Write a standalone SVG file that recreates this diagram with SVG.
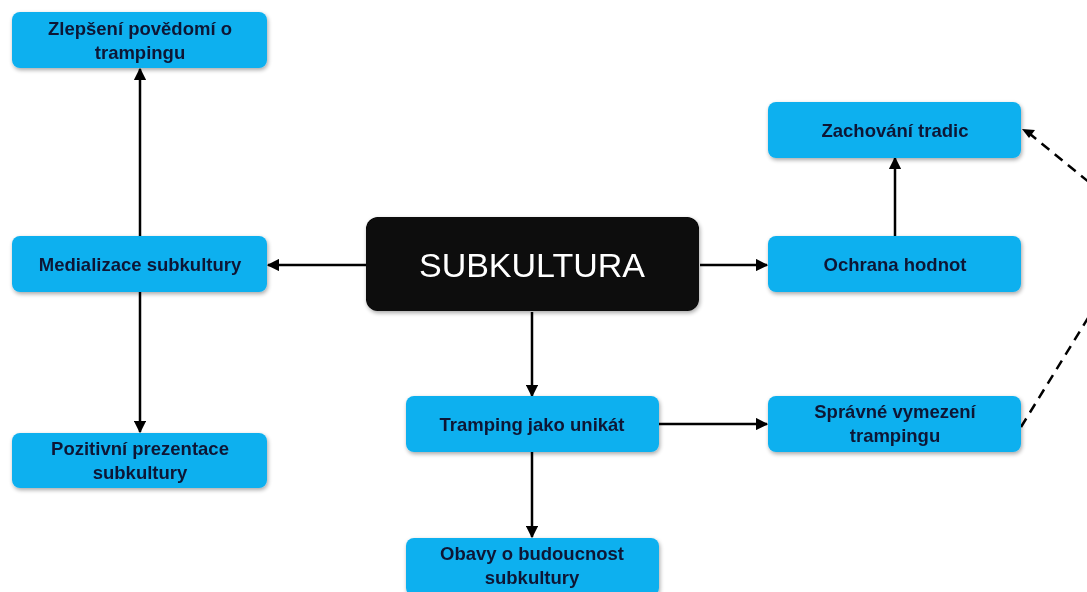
<svg xmlns="http://www.w3.org/2000/svg" width="1087" height="592" viewBox="0 0 1087 592">
<defs>
<style>
.box{fill:#0fb0ef;}
.lbl{font-family:"Liberation Sans",Arial,sans-serif;font-weight:bold;font-size:18.5px;fill:#0b1836;text-anchor:middle;}
.con{stroke:#000;stroke-width:2.5;fill:none;marker-end:url(#ah);}
.dash{stroke:#000;stroke-width:2.5;fill:none;stroke-dasharray:10,7;}
</style>
<marker id="ah" viewBox="0 0 10 10" refX="9" refY="5" markerWidth="5" markerHeight="5" orient="auto" markerUnits="strokeWidth">
<path d="M0,0 L10,5 L0,10 z" fill="#000"/>
</marker>
<filter id="sh" x="-10%" y="-20%" width="120%" height="150%">
<feGaussianBlur in="SourceAlpha" stdDeviation="2"/>
<feOffset dx="1" dy="2" result="b"/>
<feComponentTransfer><feFuncA type="linear" slope="0.35"/></feComponentTransfer>
<feMerge><feMergeNode/><feMergeNode in="SourceGraphic"/></feMerge>
</filter>
</defs>
<rect width="1087" height="592" fill="#fff"/>
<g id="connectors">
<line class="con" x1="140" y1="236" x2="140" y2="69"/>
<line class="con" x1="140" y1="292" x2="140" y2="432"/>
<line class="con" x1="366" y1="265" x2="268" y2="265"/>
<line class="con" x1="700" y1="265" x2="767" y2="265"/>
<line class="con" x1="532" y1="312" x2="532" y2="396"/>
<line class="con" x1="895" y1="236" x2="895" y2="158"/>
<line class="con" x1="659" y1="424" x2="767" y2="424"/>
<line class="con" x1="532" y1="452" x2="532" y2="537"/>
<path class="dash" d="M1021,427 L1144,227 L1030,134"/>
<path d="M1022,129 L1035,130 L1029,138 z" fill="#000"/>
</g>
<g id="n-zlepseni" filter="url(#sh)">
<rect class="box" x="12" y="12" width="255" height="56" rx="8"/>
<text class="lbl" x="140" y="35">Zlepšení povědomí o</text>
<text class="lbl" x="140" y="59">trampingu</text>
</g>
<g id="n-medializace" filter="url(#sh)">
<rect class="box" x="12" y="236" width="255" height="56" rx="8"/>
<text class="lbl" x="140" y="271">Medializace subkultury</text>
</g>
<g id="n-pozitivni" filter="url(#sh)">
<rect class="box" x="12" y="433" width="255" height="55" rx="8"/>
<text class="lbl" x="140" y="455">Pozitivní prezentace</text>
<text class="lbl" x="140" y="479">subkultury</text>
</g>
<g id="n-subkultura" filter="url(#sh)">
<rect x="366" y="217" width="333" height="94" rx="12" fill="#070707"/>
<text x="532" y="277" font-family="'Liberation Sans',Arial,sans-serif" font-size="34" fill="#fff" text-anchor="middle">SUBKULTURA</text>
</g>
<g id="n-zachovani" filter="url(#sh)">
<rect class="box" x="768" y="102" width="253" height="56" rx="8"/>
<text class="lbl" x="895" y="137">Zachování tradic</text>
</g>
<g id="n-ochrana" filter="url(#sh)">
<rect class="box" x="768" y="236" width="253" height="56" rx="8"/>
<text class="lbl" x="895" y="271">Ochrana hodnot</text>
</g>
<g id="n-tramping" filter="url(#sh)">
<rect class="box" x="406" y="396" width="253" height="56" rx="8"/>
<text class="lbl" x="532" y="431">Tramping jako unikát</text>
</g>
<g id="n-spravne" filter="url(#sh)">
<rect class="box" x="768" y="396" width="253" height="56" rx="8"/>
<text class="lbl" x="895" y="418">Správné vymezení</text>
<text class="lbl" x="895" y="442">trampingu</text>
</g>
<g id="n-obavy" filter="url(#sh)">
<rect class="box" x="406" y="538" width="253" height="58" rx="8"/>
<text class="lbl" x="532" y="560">Obavy o budoucnost</text>
<text class="lbl" x="532" y="584">subkultury</text>
</g>
</svg>
